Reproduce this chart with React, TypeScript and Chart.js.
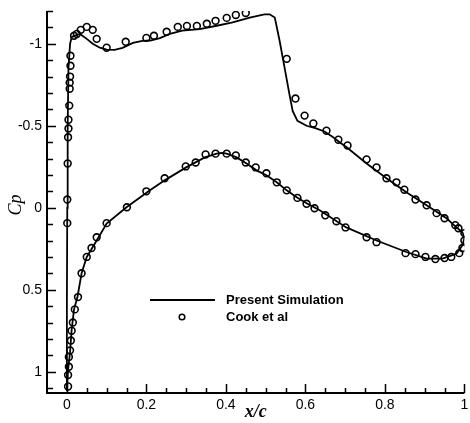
import React, { useEffect, useRef } from "react";
import { Chart, registerables } from "chart.js";

Chart.register(...registerables);

// Present Simulation: closed Cp loop (upper surface from LE stagnation to TE, then lower surface back)
const simX = [
  0.0, 0.0, 0.001, 0.002, 0.004, 0.008, 0.012, 0.02, 0.033, 0.05, 0.065, 0.083, 0.1, 0.12, 0.14, 0.166, 0.19,
  0.21, 0.234, 0.259, 0.29, 0.334, 0.377, 0.417, 0.46, 0.497, 0.51, 0.523, 0.535, 0.548, 0.56, 0.568, 0.58,
  0.603, 0.625, 0.648, 0.67, 0.686, 0.703, 0.754, 0.804, 0.854, 0.905, 0.955, 0.98, 0.995, 1.0,
  0.995, 0.98, 0.945, 0.905, 0.854, 0.779, 0.703, 0.636, 0.603, 0.578, 0.553, 0.528, 0.502, 0.477, 0.452,
  0.427, 0.402, 0.39, 0.377, 0.347, 0.3, 0.246, 0.209, 0.15, 0.1, 0.075, 0.05, 0.037, 0.027, 0.018, 0.012,
  0.008, 0.003, 0.0,
];
const simCp = [
  1.12, 0.6, 0.0, -0.5, -0.85, -1.0, -1.04, -1.05, -1.06, -1.03, -1.0, -0.976, -0.965, -0.963, -0.975, -1.005, -1.018,
  -1.02, -1.035, -1.06, -1.08, -1.09, -1.11, -1.13, -1.16, -1.18, -1.18, -1.16, -1.02, -0.85, -0.69, -0.59, -0.53,
  -0.5, -0.485, -0.465, -0.43, -0.4, -0.37, -0.27, -0.18, -0.094, -0.015, 0.064, 0.12, 0.15, 0.185,
  0.23, 0.28, 0.31, 0.31, 0.27, 0.2, 0.12, 0.015, -0.027, -0.064, -0.106, -0.155, -0.198, -0.228, -0.27,
  -0.307, -0.33, -0.335, -0.33, -0.307, -0.246, -0.167, -0.106, -0.003, 0.096, 0.2, 0.3, 0.4, 0.54, 0.62, 0.745,
  0.88, 0.99, 1.12,
];

// Cook et al experimental points
const expX = [
  0.001, 0.001, 0.002, 0.003, 0.004, 0.004, 0.006, 0.007, 0.007, 0.008, 0.009, 0.009,
  0.018, 0.025, 0.035, 0.05, 0.065, 0.075, 0.1, 0.148, 0.2, 0.219, 0.251, 0.279, 0.302, 0.327, 0.352, 0.374,
  0.402, 0.425, 0.45, 0.553, 0.575, 0.598, 0.62, 0.653, 0.683, 0.706, 0.754, 0.779, 0.804, 0.829, 0.849,
  0.877, 0.905, 0.93, 0.95, 0.977, 0.985, 1.0, 1.0, 0.995, 0.987,
  0.967, 0.95, 0.927, 0.902, 0.877, 0.852, 0.779, 0.754, 0.701, 0.678, 0.65, 0.623, 0.603, 0.58, 0.553, 0.528,
  0.502, 0.475, 0.45, 0.425, 0.402, 0.374, 0.349, 0.324, 0.299, 0.246, 0.2, 0.151, 0.1, 0.075, 0.062, 0.05,
  0.037, 0.028, 0.02, 0.015, 0.012, 0.01, 0.008, 0.005, 0.005, 0.003, 0.003,
];
const expCp = [
  0.094, -0.05, -0.27, -0.43, -0.483, -0.537, -0.623, -0.726, -0.763, -0.8, -0.866, -0.927,
  -1.049, -1.06, -1.085, -1.103, -1.085, -1.03, -0.976, -1.012, -1.036, -1.049, -1.073, -1.103, -1.109, -1.109, -1.122, -1.14,
  -1.158, -1.176, -1.188, -0.908, -0.666, -0.562, -0.514, -0.47, -0.415, -0.38, -0.295, -0.246, -0.18, -0.155, -0.11,
  -0.05, -0.015, 0.033, 0.064, 0.106, 0.125, 0.155, 0.2, 0.246, 0.277,
  0.3, 0.307, 0.313, 0.3, 0.283, 0.277, 0.21, 0.18, 0.12, 0.082, 0.046, 0.003, -0.024, -0.06, -0.106, -0.155,
  -0.21, -0.246, -0.276, -0.319, -0.33, -0.33, -0.325, -0.276, -0.252, -0.18, -0.1, -0.003, 0.094, 0.18, 0.246, 0.3,
  0.4, 0.545, 0.62, 0.7, 0.75, 0.81, 0.87, 0.91, 0.97, 1.02, 1.09,
];

const xMin = -0.05;
const xMax = 1.0;
const yMin = -1.2;
const yMax = 1.13;
const xMajorStep = 0.2;
const yMajorStep = 0.5;
const xMinorStep = 0.05;
const yMinorStep = 0.1;

const seriesNames = ["Present Simulation", "Cook et al"];
const xTitle = "x/c";
const yTitle = "Cp";

const fmt = (v: any) => String(Math.round(Number(v) * 100) / 100);

const axesPlugin = {
  id: "axesPlugin",
  afterDraw(chart: any) {
    const ctx = chart.ctx;
    const { left, right, top, bottom } = chart.chartArea;
    const xs = chart.scales.x;
    const ys = chart.scales.y;
    ctx.save();
    ctx.strokeStyle = "#000";
    ctx.fillStyle = "#000";
    // axis lines
    ctx.lineWidth = 2;
    ctx.beginPath();
    ctx.moveTo(left, top);
    ctx.lineTo(left, bottom);
    ctx.lineTo(right, bottom);
    ctx.stroke();
    // ticks
    ctx.lineWidth = 1.5;
    ctx.beginPath();
    const ny0 = Math.round(yMin / yMinorStep);
    const ny1 = Math.floor((yMax + 1e-9) / yMinorStep);
    for (let i = ny0; i <= ny1; i++) {
      const v = i * yMinorStep;
      const major = Math.abs(v / yMajorStep - Math.round(v / yMajorStep)) < 1e-6;
      const py = Math.round(ys.getPixelForValue(v)) + 0.5;
      ctx.moveTo(left, py);
      ctx.lineTo(left + (major ? 9 : 6), py);
    }
    const nx0 = Math.round(0 / xMinorStep);
    const nx1 = Math.round(xMax / xMinorStep);
    for (let i = nx0; i <= nx1; i++) {
      const v = i * xMinorStep;
      const major = Math.abs(v / xMajorStep - Math.round(v / xMajorStep)) < 1e-6;
      const px = Math.round(xs.getPixelForValue(v)) + 0.5;
      ctx.moveTo(px, bottom);
      ctx.lineTo(px, bottom - (major ? 9 : 5));
    }
    ctx.stroke();

    // axis titles
    ctx.textAlign = "center";
    ctx.textBaseline = "middle";
    ctx.font = "italic bold 18px 'Liberation Serif', 'Times New Roman', serif";
    ctx.fillText(xTitle, (left + right) / 2, 412);
    ctx.save();
    ctx.translate(16, (top + bottom) / 2 + 3);
    ctx.rotate(-Math.PI / 2);
    ctx.font = "italic 18px 'Liberation Serif', 'Times New Roman', serif";
    ctx.fillText(yTitle, 0, 0);
    ctx.restore();

    // legend
    ctx.lineWidth = 1.8;
    ctx.beginPath();
    ctx.moveTo(150, 300);
    ctx.lineTo(215, 300);
    ctx.stroke();
    ctx.lineWidth = 1.5;
    ctx.beginPath();
    ctx.arc(182, 317, 2.8, 0, Math.PI * 2);
    ctx.stroke();
    ctx.textAlign = "left";
    ctx.font = "bold 13px 'Liberation Sans', Arial, sans-serif";
    ctx.fillText(seriesNames[0], 226, 300);
    ctx.fillText(seriesNames[1], 226, 317);
    ctx.restore();
  },
};

export default function App() {
  const ref = useRef<HTMLCanvasElement>(null);
  useEffect(() => {
    if (!ref.current) return;
    const chart = new Chart(ref.current, {
      type: "scatter",
      data: {
        datasets: [
          {
            label: seriesNames[0],
            data: simX.map((x, i) => ({ x, y: simCp[i] })),
            showLine: true,
            borderColor: "#000",
            borderWidth: 1.8,
            pointRadius: 0,
            tension: 0,
            fill: false,
          },
          {
            label: seriesNames[1],
            data: expX.map((x, i) => ({ x, y: expCp[i] })),
            showLine: false,
            pointStyle: "circle",
            pointRadius: 3.4,
            pointBorderWidth: 1.6,
            borderColor: "#000",
            backgroundColor: "rgba(0,0,0,0)",
          },
        ],
      },
      options: {
        responsive: false,
        animation: false,
        devicePixelRatio: 1,
        layout: { padding: { top: 11, right: 5, left: 0, bottom: 0 } },
        plugins: { legend: { display: false }, tooltip: { enabled: false } },
        scales: {
          x: {
            type: "linear",
            min: xMin,
            max: xMax,
            grid: { display: false, drawTicks: false },
            border: { display: false },
            ticks: {
              stepSize: xMajorStep,
              includeBounds: false,
              color: "#000",
              padding: 4,
              callback: fmt,
              font: { family: "'Liberation Sans', Arial, sans-serif", size: 14 },
            },
            afterFit: (s: any) => {
              s.height = 30;
              s.paddingLeft = 0;
              s.paddingRight = 0;
            },
          },
          y: {
            type: "linear",
            reverse: true,
            min: yMin,
            max: yMax,
            grid: { display: false, drawTicks: false },
            border: { display: false },
            ticks: {
              stepSize: yMajorStep,
              includeBounds: false,
              color: "#000",
              padding: 5,
              callback: fmt,
              font: { family: "'Liberation Sans', Arial, sans-serif", size: 14 },
            },
            afterFit: (s: any) => {
              s.width = 47;
              s.paddingTop = 0;
              s.paddingBottom = 0;
            },
          },
        },
      },
      plugins: [axesPlugin],
    });
    return () => chart.destroy();
  }, []);
  return (
    <div style={{ position: "absolute", left: 0, top: 0, width: 470, height: 423, background: "#fff" }}>
      <canvas ref={ref} width={470} height={423} />
    </div>
  );
}
